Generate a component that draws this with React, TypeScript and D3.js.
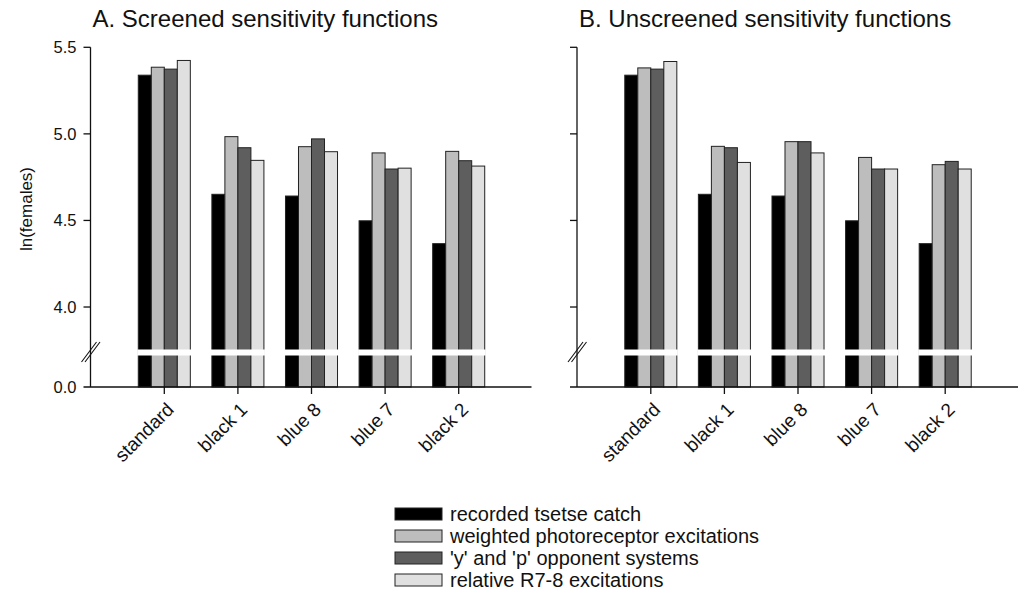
import { useEffect, useRef } from 'react';
import * as d3 from 'd3';

const categories = ['standard', 'black 1', 'blue 8', 'blue 7', 'black 2'];
const seriesNames = [
  'recorded tsetse catch',
  'weighted photoreceptor excitations',
  "'y' and 'p' opponent systems",
  'relative R7-8 excitations',
];
const seriesColors = ['#000000', '#bdbdbd', '#5e5e5e', '#e0e0e0'];

const recordedCatch = [5.339, 4.651, 4.641, 4.498, 4.366];

const screenedWeighted = [5.385, 4.984, 4.926, 4.89, 4.899];
const screenedOpponent = [5.374, 4.92, 4.971, 4.797, 4.845];
const screenedR78 = [5.424, 4.847, 4.897, 4.802, 4.814];

const unscreenedWeighted = [5.381, 4.928, 4.955, 4.864, 4.822];
const unscreenedOpponent = [5.374, 4.92, 4.955, 4.797, 4.841];
const unscreenedR78 = [5.418, 4.835, 4.89, 4.797, 4.797];

const upperTicks = [4.0, 4.5, 5.0, 5.5];
const lowerTick = 0.0;

const panels = [
  {
    title: 'A. Screened sensitivity functions',
    series: [recordedCatch, screenedWeighted, screenedOpponent, screenedR78],
    axisX: 90.5,
    showLabels: true,
  },
  {
    title: 'B. Unscreened sensitivity functions',
    series: [recordedCatch, unscreenedWeighted, unscreenedOpponent, unscreenedR78],
    axisX: 577,
    showLabels: false,
  },
];

const FONT = 'Arial, "Liberation Sans", sans-serif';

const App = () => {
  const svgRef = useRef<SVGSVGElement>(null);

  useEffect(() => {
    if (!svgRef.current) return;
    const svg = d3.select(svgRef.current);
    svg.selectAll('*').remove();

    const top = 47.3;
    const baseline = 387;
    const breakTop = 349.5;
    const breakBottom = 355.5;

    // upper segment of the broken axis
    const y = d3.scaleLinear().domain([3.75, 5.5]).range([350.3, top]);

    panels.forEach(panel => {
      const g = svg.append('g').attr('transform', `translate(${panel.axisX},0)`);

      const x0 = d3.scaleBand()
        .domain(categories)
        .range([37, 405])
        .paddingInner(0.293)
        .paddingOuter(0.1465);

      const x1 = d3.scaleBand()
        .domain(seriesNames)
        .range([0, x0.bandwidth()]);

      // title
      g.append('text')
        .attr('x', 2)
        .attr('y', 27)
        .attr('font-family', FONT)
        .attr('font-size', 24)
        .attr('fill', '#111')
        .text(panel.title);

      // bars
      categories.forEach((cat, ci) => {
        const cg = g.append('g').attr('transform', `translate(${x0(cat)},0)`);
        panel.series.forEach((vals, si) => {
          cg.append('rect')
            .attr('x', x1(seriesNames[si]) || 0)
            .attr('y', y(vals[ci]))
            .attr('width', x1.bandwidth())
            .attr('height', baseline - y(vals[ci]))
            .attr('fill', seriesColors[si])
            .attr('stroke', '#222')
            .attr('stroke-width', 1);
        });
        // white break across the bars
        cg.append('rect')
          .attr('x', -1)
          .attr('y', breakTop)
          .attr('width', x0.bandwidth() + 2)
          .attr('height', breakBottom - breakTop)
          .attr('fill', '#fff');
      });

      // y axis line
      g.append('line')
        .attr('x1', 0).attr('x2', 0)
        .attr('y1', top).attr('y2', baseline)
        .attr('stroke', '#111').attr('stroke-width', 1.3);

      // x axis line
      g.append('line')
        .attr('x1', -7).attr('x2', 441)
        .attr('y1', baseline).attr('y2', baseline)
        .attr('stroke', '#111').attr('stroke-width', 1.3);

      // y ticks
      upperTicks.forEach(t => {
        g.append('line')
          .attr('x1', -7).attr('x2', 0)
          .attr('y1', y(t)).attr('y2', y(t))
          .attr('stroke', '#111').attr('stroke-width', 1.3);
        if (panel.showLabels) {
          g.append('text')
            .attr('x', -14)
            .attr('y', y(t))
            .attr('dy', '0.35em')
            .attr('text-anchor', 'end')
            .attr('font-family', FONT)
            .attr('font-size', 16.5)
            .attr('fill', '#111')
            .text(t.toFixed(1));
        }
      });
      if (panel.showLabels) {
        g.append('text')
          .attr('x', -14)
          .attr('y', baseline)
          .attr('dy', '0.35em')
          .attr('text-anchor', 'end')
          .attr('font-family', FONT)
          .attr('font-size', 16.5)
          .attr('fill', '#111')
          .text(lowerTick.toFixed(1));
      }

      // axis break marks
      [0, 3.5].forEach(off => {
        g.append('line')
          .attr('x1', -9 + off).attr('y1', 362)
          .attr('x2', 6 + off).attr('y2', 342)
          .attr('stroke', '#111').attr('stroke-width', 1.1);
      });

      // x ticks and rotated labels
      categories.forEach(cat => {
        const cx = (x0(cat) || 0) + x0.bandwidth() / 2;
        g.append('line')
          .attr('x1', cx).attr('x2', cx)
          .attr('y1', baseline).attr('y2', baseline + 7)
          .attr('stroke', '#111').attr('stroke-width', 1.3);
        g.append('text')
          .attr('transform', `translate(${cx + 1},${baseline + 14}) rotate(-45)`)
          .attr('text-anchor', 'end')
          .attr('dy', '0.72em')
          .attr('font-family', FONT)
          .attr('font-size', 19)
          .attr('fill', '#111')
          .text(cat);
      });
    });

    // y axis title
    svg.append('text')
      .attr('transform', `translate(32,209) rotate(-90)`)
      .attr('text-anchor', 'middle')
      .attr('font-family', FONT)
      .attr('font-size', 17)
      .attr('fill', '#111')
      .text('ln(females)');

    // legend
    const legend = svg.append('g').attr('transform', 'translate(395,508)');
    seriesNames.forEach((name, i) => {
      const row = legend.append('g').attr('transform', `translate(0,${i * 22})`);
      row.append('rect')
        .attr('x', 0).attr('y', 0)
        .attr('width', 47).attr('height', 12)
        .attr('fill', seriesColors[i])
        .attr('stroke', '#222').attr('stroke-width', 1);
      row.append('text')
        .attr('x', 55)
        .attr('y', 6)
        .attr('dy', '0.36em')
        .attr('font-family', FONT)
        .attr('font-size', 20)
        .attr('fill', '#111')
        .text(name);
    });
  }, []);

  return (
    <svg
      ref={svgRef}
      width={1024}
      height={596}
      style={{ position: 'absolute', left: 0, top: 0, background: '#fff' }}
    />
  );
};

export default App;
